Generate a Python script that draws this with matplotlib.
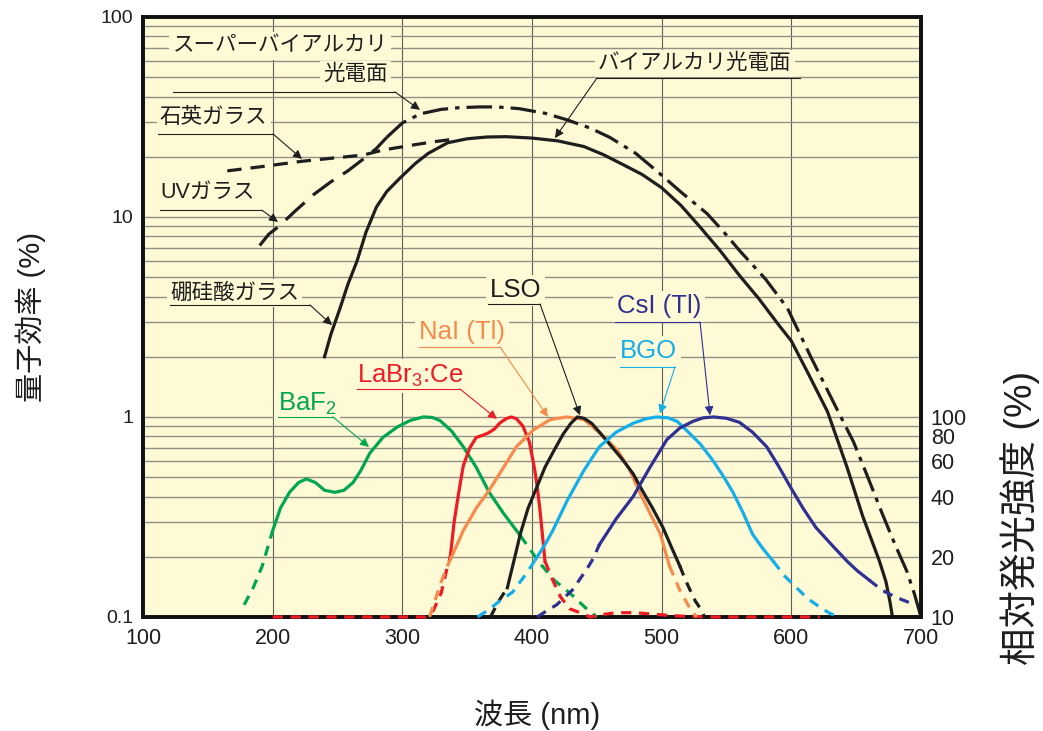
import numpy as np
import matplotlib
matplotlib.use('Agg')
import matplotlib.pyplot as plt
from matplotlib.ticker import LogLocator, NullLocator, NullFormatter, FixedLocator, FixedFormatter

plt.rcParams['font.family'] = ['Liberation Sans', 'Noto Sans CJK JP']
plt.rcParams['mathtext.default'] = 'regular'

# ---- quantum efficiency curves (%) ----
bialkali_wl = [240, 245, 252, 258, 265, 272, 280, 288, 298, 310, 320, 335, 350, 365, 380,
               400, 420, 440, 455, 470, 485, 500, 515, 529, 545, 560, 575, 590, 600, 612,
               628, 643, 655, 668, 673, 676, 678]
bialkali_qe = [2.0, 2.6, 3.5, 4.6, 6.0, 8.4, 11.2, 13.4, 15.6, 18.5, 20.8, 23.5, 24.6, 25.1, 25.2,
               24.8, 24.0, 22.5, 20.5, 18.3, 16.3, 14.0, 11.4, 9.0, 6.8, 5.1, 3.9, 2.9, 2.4, 1.7,
               1.06, 0.56, 0.32, 0.19, 0.15, 0.12, 0.1]

quartz_wl = [165, 190, 223, 250, 270, 285, 310, 325, 340]
quartz_qe = [17.0, 17.8, 19.0, 19.8, 20.4, 21.6, 23.0, 23.8, 24.5]

uv_wl = [190, 197, 205, 218, 232, 245, 258, 270, 280, 288]
uv_qe = [7.2, 8.2, 9.0, 10.8, 13.0, 15.0, 17.0, 19.5, 22.0, 25.0]

sba_wl = [288, 300, 314, 330, 344, 360, 373, 390, 410, 427, 445, 460, 480, 498, 515,
          535, 548, 560, 580, 597, 615, 635, 648, 659, 670, 680, 689, 695, 700]
sba_qe = [25.0, 29.5, 32.8, 34.5, 35.2, 35.5, 35.5, 34.8, 33.0, 30.6, 27.8, 25.0, 20.8, 16.6, 13.3,
          10.4, 8.4, 6.8, 4.9, 3.5, 2.0, 1.1, 0.75, 0.5, 0.33, 0.23, 0.17, 0.13, 0.1]

# ---- relative emission intensity (%) of scintillators ----
baf2_wl = [178, 185, 192, 200, 206, 213, 220, 226, 233, 240, 248, 255, 262, 268, 275, 285, 296,
           306, 316, 323, 329, 338, 347, 357, 367, 378, 391, 406, 417, 429, 442, 450]
baf2_em = [11.5, 14, 18, 27, 35, 42, 47, 49, 47, 43, 42, 43, 47, 54, 66, 79, 89,
           96, 100, 99.5, 96, 85, 71, 56, 42, 33, 25.5, 18.6, 15.3, 13.2, 11, 10]
baf2_solid = (200, 391)

labr_wl = [200, 250, 300, 318, 324, 330, 334, 337, 340, 343, 347, 352, 357, 362, 366, 371, 375,
           380, 384, 388, 393, 398, 402, 404, 406, 408, 410, 416, 422, 429, 437, 445, 455, 465,
           480, 495, 515, 540, 570, 600, 622]
labr_em = [10, 10, 10, 10, 10.8, 13.2, 17, 20, 30, 40, 57, 70, 79, 81, 83, 87, 93,
           98, 100, 98, 90, 75, 55, 45, 35, 26, 19, 15.3, 12.6, 11, 10.5, 10, 10.3, 10.5,
           10.5, 10.3, 10.1, 10, 10, 10, 10]
labr_solid = (337, 410)

nai_wl = [321, 325, 330, 334, 338, 347, 357, 367, 375, 388, 401, 414, 427, 440, 447, 456,
          466, 475, 483, 491, 499, 506, 514, 522, 527]
nai_em = [10, 12, 15, 17.5, 20, 27, 35, 43, 52, 71, 86, 97, 100, 97, 89, 79,
          68, 55, 42, 33, 26, 18, 13.6, 11, 10]
nai_solid = (338, 506)

lso_wl = [368, 374, 381, 386, 391, 397, 404, 410, 417, 424, 430, 435, 440, 446, 452, 460,
          470, 478, 485, 493, 501, 508, 514, 518, 522, 526, 530, 533]
lso_em = [10, 11.9, 14, 19, 26, 35, 45, 56, 68, 82, 93, 100, 98.5, 93, 84, 73,
          61, 52, 43, 35, 28, 22, 18, 15.5, 13.6, 12, 11, 10]
lso_solid = (381, 514)

bgo_wl = [358, 366, 375, 385, 396, 403, 410, 416, 427, 440, 452, 465, 478, 488, 496, 505,
          512, 519, 530, 540, 548, 555, 563, 570, 578, 586, 595, 604, 613, 622, 630, 637]
bgo_em = [10, 10.8, 12, 13.3, 16.6, 19.5, 23, 27, 38, 54, 71, 84, 93, 98, 100, 99,
          95, 86, 73, 60, 50, 42, 33, 26, 22, 19, 16, 14, 12.3, 11.2, 10.4, 10]
bgo_solid = (403, 586)

csi_wl = [404, 412, 419, 425, 432, 437, 442, 447, 452, 465, 478, 491, 504, 514, 524, 532,
          540, 550, 560, 570, 581, 590, 599, 609, 619, 631, 643, 651, 660, 670, 680, 691]
csi_em = [10, 10.8, 11.5, 12.5, 13.8, 15.5, 17.2, 19.5, 23, 31, 40, 56, 77, 88, 95, 99,
          100, 98.5, 94, 84, 71, 57, 45, 35, 28, 23, 19, 17, 15.3, 13.6, 12.6, 11.8]
csi_solid = (452, 660)

BG = '#fffad6'
INK = '#1e1e1e'
GREEN = '#00a651'
RED = '#ed1c24'
ORANGE = '#f68b4d'
CYAN = '#14aee9'
NAVY = '#2e3192'
LW = 2.3

fig = plt.figure(figsize=(10.43, 7.31), dpi=100)
ax = fig.add_axes([0.1371, 0.156, 0.7459, 0.8208])
ax.set_facecolor(BG)
ax.set_yscale('log')
ax.set_xlim(100, 700)
ax.set_ylim(0.1, 100)
ax.set_axisbelow(True)

ax.xaxis.set_major_locator(FixedLocator([100, 200, 300, 400, 500, 600, 700]))
ax.yaxis.set_major_locator(FixedLocator([0.1, 1, 10, 100]))
ax.yaxis.set_major_formatter(FixedFormatter(['0.1', '1', '10', '100']))
ax.yaxis.set_minor_locator(LogLocator(base=10, subs=np.arange(2, 10)))
ax.yaxis.set_minor_formatter(NullFormatter())
ax.grid(which='major', axis='x', color='#5e5e58', lw=0.8)
ax.grid(which='both', axis='y', color='#8f8f86', lw=1.0)
ax.tick_params(axis='y', which='both', length=0, pad=7, labelsize=14, labelcolor=INK)
ax.tick_params(axis='x', length=0, pad=8, labelsize=15.5, labelcolor=INK)

# photocathode QE curves
ax.plot(bialkali_wl, bialkali_qe, color=INK, lw=LW, zorder=3)
ax.plot(quartz_wl, quartz_qe, color=INK, lw=LW, ls=(0, (4.5, 2.8)), zorder=3)
ax.plot(uv_wl, uv_qe, color=INK, lw=LW, ls=(0, (8, 3.5)), zorder=3)
ax.plot(sba_wl, sba_qe, color=INK, lw=LW, ls=(0, (8, 2.2, 1.4, 2.2)), zorder=3)

# emission spectra on the right-hand scale
ax2 = ax.twinx()
ax2.set_yscale('log')
ax2.set_ylim(10, 10000)
ax2.yaxis.set_major_locator(FixedLocator([10, 20, 40, 60, 80, 100]))
ax2.yaxis.set_major_formatter(FixedFormatter(['10', '20', '40', '60', '80', '100']))
ax2.yaxis.set_minor_locator(NullLocator())
ax2.tick_params(axis='y', length=0, pad=7, labelsize=15.5, labelcolor=INK)
ax2.patch.set_visible(False)


def spectrum(wl, em, solid, color):
    wl = np.asarray(wl, dtype=float)
    em = np.asarray(em, dtype=float)
    lo, hi = solid
    mid = (wl >= lo) & (wl <= hi)
    ax2.plot(wl[mid], em[mid], color=color, lw=LW, zorder=3, clip_on=False)
    for part in (wl <= lo, wl >= hi):
        if part.sum() > 1:
            ax2.plot(wl[part], em[part], color=color, lw=LW, ls=(0, (3.2, 2.4)),
                     zorder=3, clip_on=False)


spectrum(baf2_wl, baf2_em, baf2_solid, GREEN)
spectrum(labr_wl, labr_em, labr_solid, RED)
spectrum(nai_wl, nai_em, nai_solid, ORANGE)
spectrum(lso_wl, lso_em, lso_solid, INK)
spectrum(bgo_wl, bgo_em, bgo_solid, CYAN)
spectrum(csi_wl, csi_em, csi_solid, NAVY)

for a in (ax, ax2):
    for sp in a.spines.values():
        sp.set_linewidth(2.6)
        sp.set_color('#111111')


# labels with underline + arrow, placed in left-axis units
def callout(text, tx, ty, x0, x1, uy, corner, tip, color, ha='left', size=15.5):
    ax2.text(tx, ty, text, transform=ax.transData, color=color, fontsize=size,
             ha=ha, va='center', zorder=6,
             bbox=dict(facecolor=BG, edgecolor='none', pad=2.5))
    ax2.plot([x0, x1], [uy, uy], transform=ax.transData, color=color, lw=0.8, zorder=6)
    ax2.annotate('', xy=tip, xytext=(corner, uy), xycoords=ax.transData,
                 textcoords=ax.transData, zorder=6,
                 arrowprops=dict(arrowstyle='-|>', color=color, lw=0.8,
                                 mutation_scale=13, shrinkA=0, shrinkB=0))


ax2.text(288.9, 71.5, 'スーパーバイアルカリ', transform=ax.transData, color=INK, fontsize=15.5,
         ha='right', va='center', zorder=6, bbox=dict(facecolor=BG, edgecolor='none', pad=2.5))
callout('光電面', 288.9, 51.3, 123.1, 294.3, 42.2, 294.3, (313.6, 34.3), INK, ha='right')
callout('バイアルカリ光電面', 450.9, 58.5, 450.1, 606.7, 49.5, 450.1, (417.7, 24.8), INK)
callout('石英ガラス', 113.1, 31.6, 111.6, 200.3, 26.0, 200.3, (222.6, 19.5), INK)
callout('UVガラス', 113.1, 13.2, 113.1, 191.8, 10.8, 191.8, (204.1, 9.44), INK)
callout('硼硅酸ガラス', 120.8, 4.17, 120.8, 228.8, 3.63, 228.8, (245.8, 2.88), INK)
callout('BaF$_2$', 204.1, 1.16, 204.1, 246.5, 1.0, 246.5, (274.3, 0.708), GREEN, size=18.5)
callout('LaBr$_3$:Ce', 265.0, 1.6, 265.0, 344.5, 1.38, 344.5, (373.0, 0.977), RED, size=18.5)
callout('NaI (Tl)', 312.8, 2.65, 312.8, 375.3, 2.24, 375.3, (412.3, 1.0), ORANGE, size=18.5)
callout('LSO', 367.6, 4.3, 366.0, 406.2, 3.67, 406.2, (437.0, 1.02), INK, size=18.5)
callout('CsI (Tl)', 465.5, 3.58, 464.0, 529.6, 2.99, 529.6, (537.3, 1.02), NAVY, size=18.5)
callout('BGO', 467.9, 2.13, 467.9, 510.3, 1.78, 510.3, (498.7, 1.04), CYAN, size=18.5)

ax.set_xlabel('波長 (nm)', fontsize=21, color=INK)
ax.xaxis.set_label_coords(0.506, -0.163)
ax.xaxis.label.set(va='center', ha='center')
ax.set_ylabel('量子効率 (%)', fontsize=21, color=INK)
ax.yaxis.set_label_coords(-0.144, 0.5)
ax.yaxis.label.set(va='center', ha='center')
ax2.set_ylabel('相対発光強度 (%)', fontsize=27, color=INK, rotation=90)
ax2.yaxis.set_label_coords(1.127, 0.165)
ax2.yaxis.label.set(va='center', ha='center')

fig.savefig('out.png', dpi=100, facecolor='white')
